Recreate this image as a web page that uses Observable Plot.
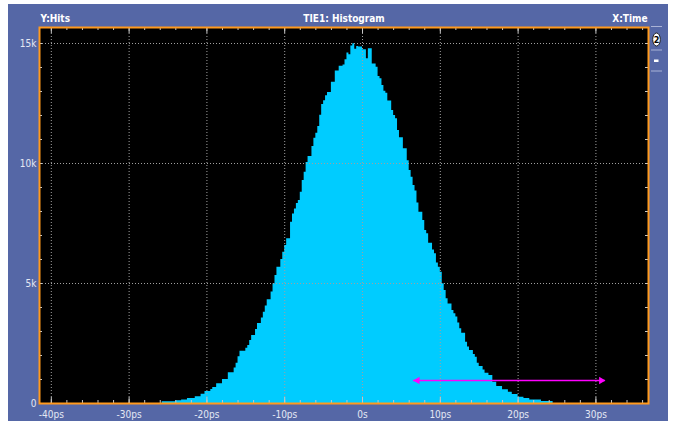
<!DOCTYPE html>
<html><head><meta charset="utf-8">
<script src="https://cdn.jsdelivr.net/npm/d3@7"></script>
<script src="https://cdn.jsdelivr.net/npm/@observablehq/plot@0.6"></script>
<style>
html,body{margin:0;padding:0;background:#fff;}
#wrap{position:relative;width:673px;height:424px;overflow:hidden;}
#panel{position:absolute;left:8px;top:4px;width:660px;height:417px;background:#5567a6;}
#chart{position:absolute;left:0;top:0;}
#widget{position:absolute;left:0;top:0;}
</style></head><body>
<div id="wrap"><div id="panel"></div><div id="chart"></div>
<svg id="widget" width="673" height="424">
  <line x1="651" x2="662" y1="26.5" y2="26.5" stroke="#aab3d6" stroke-width="1"/>
  <ellipse cx="656.5" cy="39.5" rx="3.8" ry="6.5" fill="#fff" stroke="#222" stroke-width="1"/>
  <text x="656.5" y="43" text-anchor="middle" font-family="DejaVu Sans Condensed, sans-serif" font-size="9" font-weight="bold" fill="#000">2</text>
  <line x1="651" x2="662" y1="50" y2="50" stroke="#aab3d6" stroke-width="1"/>
  <rect x="654" y="59.5" width="4.5" height="2.5" fill="#fff"/>
  <line x1="651" x2="662" y1="71" y2="71" stroke="#aab3d6" stroke-width="1"/>
</svg>
</div>
<script>
// Histogram bins (ps): first bin start and width
const firstBin = -25.75;
const binWidth = 0.25;
// Hits per bin
const hits = [
  70,70,70,70,70,70,70,110,110,110,
  150,150,150,210,210,210,210,280,280,280,
  390,390,500,500,500,580,670,670,820,820,
  820,1000,1000,1000,1280,1280,1280,1480,1680,1950,
  2180,2180,2180,2300,2420,2620,2830,2830,3080,3330,
  3330,3560,3800,4060,4320,4320,4650,4990,5330,5680,
  5680,6000,6300,6580,6860,6860,7550,7900,8100,8330,
  8460,8800,9290,9640,10040,10290,10290,10710,11050,11260,
  11540,12010,12460,12620,12820,12960,12960,13390,13390,13850,
  13850,14050,14050,14100,14320,14600,14530,14900,14990,14760,
  14880,14850,14850,14740,14740,14360,14780,14780,14150,14150,
  14010,13630,13530,13250,13010,12930,12600,12600,12210,12000,
  11860,11380,11070,11070,10610,10610,10120,9710,9430,9080,
  8850,8350,7970,7970,7620,7210,7070,6680,6680,6400,
  6240,5850,5680,5470,4990,4710,4360,4150,4150,3880,
  3740,3600,3350,3110,2930,2930,2550,2350,2210,2210,
  2040,1930,1680,1540,1540,1400,1260,1260,1170,1170,
  890,890,710,710,710,570,570,570,470,470,
  375,375,375,260,260,260,210,210,210,150,
  150,150,150,150,150,80,80,80,80,80,
  80
];
const xTicks = [-40,-30,-20,-10,0,10,20,30];
const xTickLabels = ["-40ps","-30ps","-20ps","-10ps","0s","10ps","20ps","30ps"];
const yTicks = [0,5000,10000,15000];
const yTickLabels = ["0","5k","10k","15k"];
const xMinorTicks = d3.range(-40, 37, 2);
const yMinorTicks = d3.range(1000, 15001, 1000);
const cursorSpan = [6.55, 31.2];   // ps
const cursorHits = 960;
const titleLeft = "Y:Hits";
const titleCenter = "TIE1: Histogram";
const titleRight = "X:Time";

// step outline: each bin start, plus the closing edge of the last bin
const steps = hits.map((h, i) => ({x: firstBin + i * binWidth, hits: h}));
steps.push({x: firstBin + hits.length * binWidth, hits: 0});

const font = "'Liberation Sans Narrow', 'DejaVu Sans Condensed', sans-serif";
const grid = "#a0a0a0";
const minor = "#c8c8c8";
const labelColor = "#e4e8f4";

const plot = Plot.plot({
  width: 673, height: 424,
  marginLeft: 39, marginRight: 25, marginTop: 27, marginBottom: 21,
  x: {domain: [-41.52, 36.76]},
  y: {domain: [0, 15667]},
  style: {background: "transparent", fontFamily: font, fontSize: "10px", color: labelColor},
  marks: [
    Plot.frame({fill: "#000"}),
    Plot.areaY(steps, {x: "x", y: "hits", curve: "step-after", fill: "#00ccff"}),
    Plot.ruleX(xTicks, {stroke: grid, strokeDasharray: "1,2"}),
    Plot.ruleY(yTicks.filter(d => d > 0), {stroke: grid, strokeDasharray: "1,2"}),
    Plot.ruleX(xMinorTicks, {stroke: minor, insetBottom: 373}),
    Plot.ruleX(xMinorTicks, {stroke: minor, insetTop: 373}),
    Plot.ruleX(xTicks, {stroke: minor, insetBottom: 370}),
    Plot.ruleX(xTicks, {stroke: minor, insetTop: 370}),
    Plot.ruleY(yMinorTicks, {stroke: minor, insetRight: 606}),
    Plot.ruleY(yMinorTicks, {stroke: minor, insetLeft: 606}),
    Plot.ruleY([cursorHits], {x1: cursorSpan[0], x2: cursorSpan[1], stroke: "#ff00ff", strokeWidth: 1.5}),
    Plot.dot([cursorSpan[0]], {x: d => d, y: () => cursorHits, symbol: "triangle2", r: 3.5, fill: "#ff00ff", rotate: -90, dx: 4}),
    Plot.dot([cursorSpan[1]], {x: d => d, y: () => cursorHits, symbol: "triangle2", r: 3.5, fill: "#ff00ff", rotate: 90, dx: -4}),
    Plot.frame({stroke: "#ff9a1e", strokeWidth: 2}),
    Plot.axisX(xTicks, {tickFormat: d => xTickLabels[xTicks.indexOf(d)], tickSize: 0, tickPadding: 7, fill: labelColor, fontSize: 10, label: null}),
    Plot.axisY(yTicks, {tickFormat: d => yTickLabels[yTicks.indexOf(d)], tickSize: 0, tickPadding: 3, fill: labelColor, fontSize: 10, label: null}),
    Plot.text([titleLeft], {frameAnchor: "top-left", textAnchor: "start", lineAnchor: "middle", dy: -9, dx: 1, fill: "#fff", fontWeight: "bold", fontSize: 10}),
    Plot.text([titleCenter], {frameAnchor: "top", lineAnchor: "middle", dy: -9, fill: "#fff", fontWeight: "bold", fontSize: 10}),
    Plot.text([titleRight], {frameAnchor: "top-right", textAnchor: "end", lineAnchor: "middle", dy: -9, dx: -1, fill: "#fff", fontWeight: "bold", fontSize: 10})
  ]
});
document.getElementById("chart").appendChild(plot);
</script>
</body></html>
